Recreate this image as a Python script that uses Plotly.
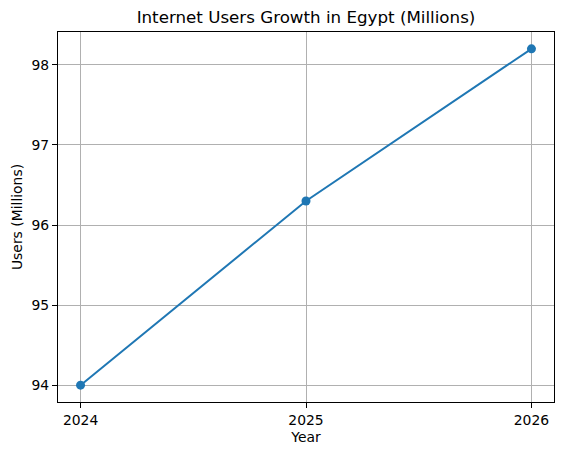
import plotly.graph_objects as go

years = [2024, 2025, 2026]
users = [94.0, 96.3, 98.2]
y_ticks = [94, 95, 96, 97, 98]

font = "DejaVu Sans"

fig = go.Figure(
    go.Scatter(
        x=years, y=users, mode="lines+markers",
        line=dict(color="#1f77b4", width=2),
        marker=dict(color="#1f77b4", size=9),
        showlegend=False,
    )
)

axis_common = dict(
    showline=True, linecolor="black", linewidth=1.1, mirror=True,
    showgrid=True, gridcolor="#b0b0b0", gridwidth=1.1,
    ticks="outside", ticklen=5, tickwidth=1.1, tickcolor="black",
    tickfont=dict(family=font, size=13.9, color="black"),
    zeroline=False, automargin=False,
)

fig.update_layout(
    width=563, height=455,
    margin=dict(l=57.5, r=9.3, t=32.3, b=53),
    paper_bgcolor="white", plot_bgcolor="white",
    font=dict(family=font, color="black"),
    title=dict(
        text="Internet Users Growth in Egypt (Millions)",
        font=dict(family=font, size=16.7, color="black"),
        x=0.5, xref="paper", xanchor="center",
        y=1 - 17 / 455, yref="container", yanchor="middle",
        automargin=False,
    ),
    xaxis=dict(
        axis_common, range=[2023.9, 2026.1],
        tickvals=years, ticktext=[str(y) for y in years],
        title=dict(text="Year", font=dict(family=font, size=13.9, color="black"), standoff=5),
    ),
    yaxis=dict(
        axis_common, range=[93.79, 98.41],
        tickvals=y_ticks, ticktext=[str(v) for v in y_ticks],
        title=dict(text="Users (Millions)", font=dict(family=font, size=13.9, color="black"), standoff=5),
    ),
)

# page body has a default 8px margin; drop it so the figure sits at 0,0
fig.write_html(
    "out.html",
    config={"displayModeBar": False},
    post_script="document.body.style.margin='0';",
)
